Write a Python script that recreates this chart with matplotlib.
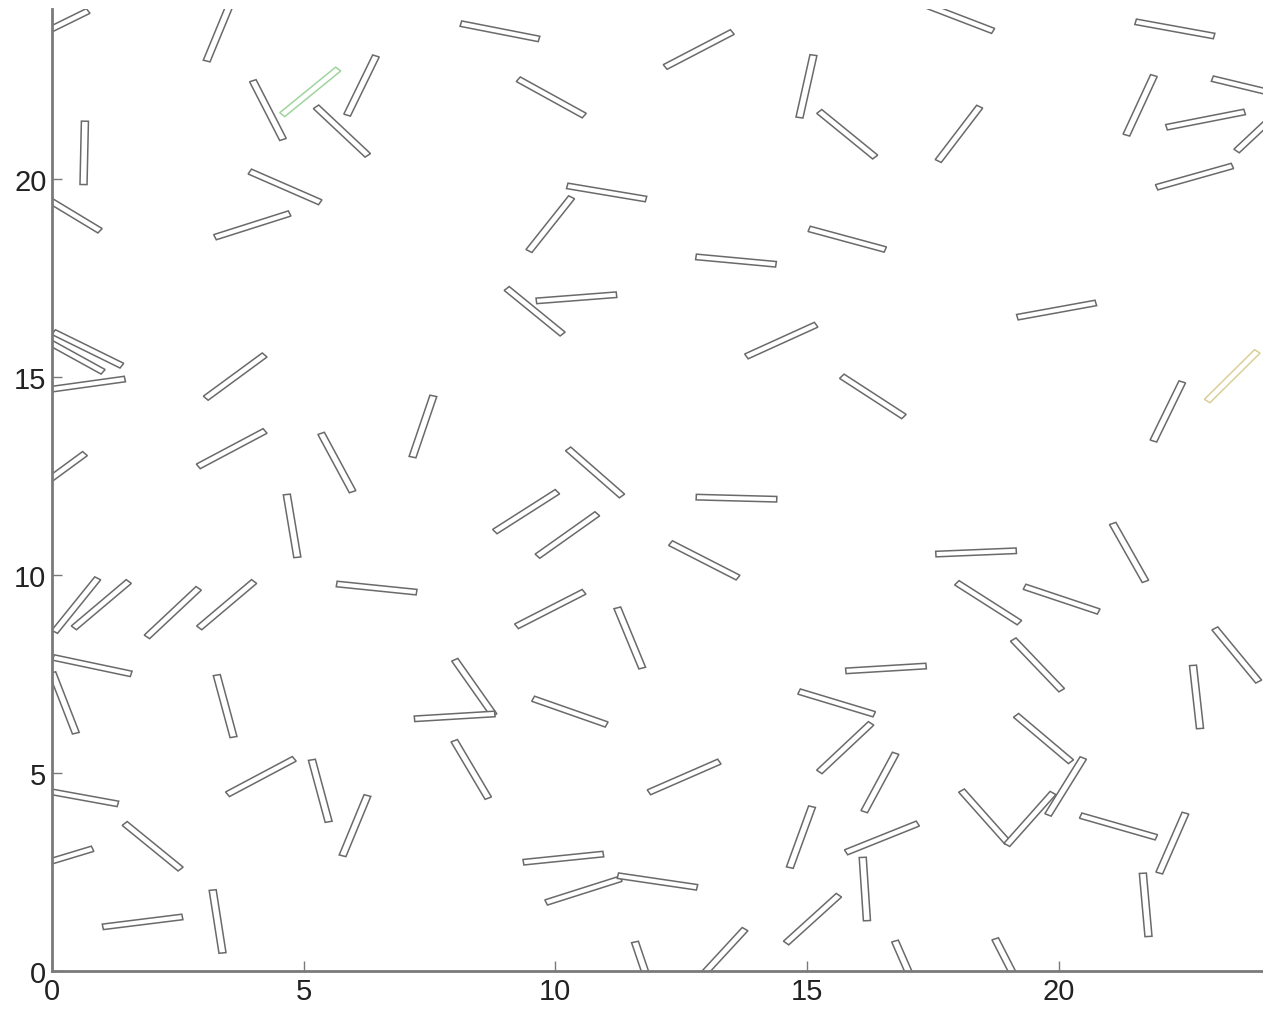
import matplotlib
matplotlib.use("Agg")
import matplotlib.pyplot as plt
from matplotlib.patches import Rectangle

# rod centres (x, y) and orientation (degrees, data space)
rod_x = [0.04, 3.32, 4.29, 5.13, 5.76, 0.64, 0.32, 4.63, 3.98, 8.90,
         6.15, 9.92, 11.02, 9.90, 9.59, 10.42, 12.85, 14.99, 15.80, 13.59,
         15.80, 14.49, 17.98, 18.02, 22.31, 21.62, 23.82, 22.92, 24.05, 22.70,
         19.96, 0.71, 0.36, 0.66, 3.64, 0.07, 3.57, 4.77, 5.66, 0.48,
         0.98, 2.40, 3.47, 0.80, 7.37, 10.79, 9.42, 10.24, 6.45, 9.90,
         11.48, 8.39, 16.31, 13.60, 12.96, 18.36, 18.60, 16.57, 23.45, 22.17,
         21.40, 20.06, 19.58, 23.54, 22.74, 0.24, 3.44, 4.15, 5.33, 0.53,
         2.00, 0.06, 1.80, 3.29, 8.00, 10.29, 8.33, 6.02, 10.16, 10.56,
         12.03, 11.79, 15.59, 15.76, 16.45, 12.56, 14.88, 16.49, 16.15, 15.11,
         13.30, 17.01, 19.70, 20.14, 18.53, 19.43, 21.19, 22.26, 21.73, 19.04]
rod_y = [23.82, 23.74, 21.74, 22.20, 21.21, 20.66, 19.18, 19.80, 18.83, 23.73,
         22.36, 22.06, 19.66, 18.86, 16.66, 17.00, 23.27, 22.34, 21.13, 17.94,
         18.48, 15.92, 24.09, 21.14, 23.79, 21.86, 22.30, 21.50, 21.32, 20.06,
         16.69, 15.71, 15.59, 14.81, 15.01, 12.52, 13.19, 11.24, 12.84, 9.24,
         9.25, 9.05, 9.25, 7.71, 13.75, 12.59, 11.60, 11.01, 9.67, 9.14,
         8.41, 7.16, 14.51, 11.94, 10.37, 10.57, 9.30, 7.64, 15.02, 14.13,
         10.57, 9.39, 7.73, 7.98, 6.92, 6.77, 6.69, 4.91, 4.55, 4.40,
         3.15, 2.80, 1.24, 1.25, 6.43, 6.55, 5.09, 3.67, 2.85, 2.03,
         2.26, -0.04, 6.77, 5.64, 4.76, 4.90, 3.38, 3.36, 2.07, 1.31,
         0.41, 0.00, 5.87, 4.66, 3.90, 3.84, 3.65, 3.23, 1.67, 0.07]
rod_angle = [32, 72, -68, 46, -50, 89, -37.5, -29, 22, -14,
             69, -35, -12, 58, -46, 5.6, 33.5, 80, -46, -6.7,
             -19, 30, -26, 59, -13, 70, -17, 14, 50, 19.7,
             13, -32, -35, 10, 43, 43, 34, -82.5, -67, 57.6,
             47, 50, 47, -15, 75, -48, 39, 42, -7.4, 33,
             -72, -61, -39.5, -1.9, -33, 3, -39, 4.4, 51.5, 69,
             -66, -23, -53, -57, -85, -73, -78, 34, -78, -13,
             -46, 21, 9, -83, 4.4, -24, -65, 72, 7.4, 22,
             -10.6, -75, -21, 50, 67, 29, 74, 27, -87, 49,
             54, -71, -47, 64, -55, 55, -20, 71, -86, -68]

x_ticks = [0, 5, 10, 15, 20]
y_ticks = [0, 5, 10, 15, 20]

ROD_LEN = 1.6
ROD_W = 0.14
highlight = {3: "#9fd49f", 58: "#d9cf97"}

fig = plt.figure(figsize=(12.63, 10.12), dpi=100)
fig.patch.set_facecolor("white")
ax = fig.add_axes([52 / 1263, 40 / 1012, 1211 / 1263, 962 / 1012])
ax.set_xlim(0, 1211 / 50.33)
ax.set_ylim(0, 962 / 39.6)

for i, (cx, cy, a) in enumerate(zip(rod_x, rod_y, rod_angle)):
    ec = highlight.get(i, "#6a6a6a")
    r = Rectangle((cx - ROD_LEN / 2, cy - ROD_W / 2), ROD_LEN, ROD_W,
                  angle=a, rotation_point="center",
                  facecolor="white", edgecolor=ec, linewidth=1.1)
    ax.add_patch(r)

for s in ["top", "right"]:
    ax.spines[s].set_visible(False)
for s in ["left", "bottom"]:
    ax.spines[s].set_color("#7a7a7a")
    ax.spines[s].set_linewidth(2.0)

ax.set_xticks(x_ticks)
ax.set_yticks(y_ticks)
ax.tick_params(direction="in", length=7, width=1, color="#7a7a7a",
               labelsize=21, labelcolor="#222222", pad=4)
for lab in ax.get_xticklabels() + ax.get_yticklabels():
    lab.set_fontfamily("Liberation Sans")

fig.savefig("out.png", dpi=100, facecolor="white")
